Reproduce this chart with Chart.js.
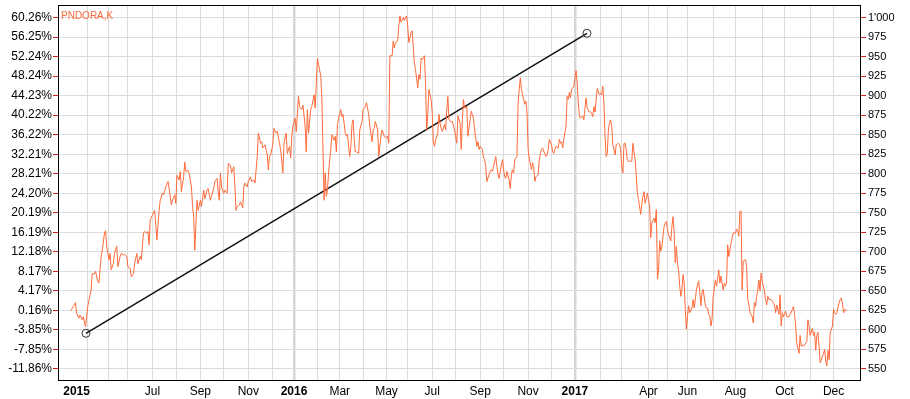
<!DOCTYPE html>
<html>
<head>
<meta charset="utf-8">
<script src="https://cdn.jsdelivr.net/npm/chart.js@4"></script>
<style>
  html, body { margin: 0; padding: 0; background: #fff; }
  #wrap { width: 910px; height: 399px; position: relative; }
</style>
</head>
<body>
<div id="wrap"><canvas id="priceChart"></canvas></div>
<script>
// trading-day index (0 = first session shown, mid March 2015) and closing price
const days = [0,2,4,5,7,8,10,11,13,15,16,18,19,21,22,24,25,26,27,28,30,31,32,34,35,36,38,39,41,42,44,45,47,48,50,51,53,54,56,57,59,60,62,63,65,66,68,69,70,71,73,75,76,77,79,80,82,83,85,87,88,90,91,93,94,95,97,98,99,101,102,103,105,106,108,109,110,111,
  113,114,116,117,119,120,122,123,125,126,128,129,131,132,133,134,135,137,138,140,141,143,144,146,147,148,149,151,152,154,155,156,158,159,161,162,164,165,167,168,170,171,172,174,176,177,178,179,181,182,184,185,187,188,190,191,193,194,196,197,198,199,201,202,204,205,207,208,210,211,212,213,215,216,218,219,221,222,224,225,226,227,228,229,
  230,231,232,233,234,236,237,238,239,240,242,243,244,246,247,248,250,251,252,253,254,255,256,258,259,261,262,264,265,267,268,270,271,272,273,275,276,278,279,281,282,284,285,286,288,289,290,291,293,294,295,296,298,299,300,301,302,303,305,306,307,308,309,311,312,313,314,315,317,318,319,320,321,323,324,325,326,327,329,330,331,332,333,335,336,337,338,339,341,342,
  344,346,347,349,350,351,352,353,355,356,358,359,361,362,364,365,366,367,369,370,371,372,373,375,376,377,378,379,381,382,383,384,385,387,388,389,390,391,393,394,395,396,397,398,400,401,402,403,404,405,407,408,409,410,411,413,414,415,416,417,419,420,421,422,423,424,426,427,428,429,431,432,433,434,435,437,438,439,440,441,442,444,445,446,447,448,449,451,452,453,454,455,456,457,459,460,461,462,463,
  465,466,467,468,469,470,471,472,474,475,476,477,478,479,480,481,482,483,484,485,486,487,488,489,491,492,493,494,495,496,497,498,499,500,502,503,504,505,506,507,508,509,511,512,513,514,515,517,518,519,520,521,523,524,525,526,527,528,529,530,532,533,534,535,536,538,539,540,541,542,543,544,545,546,547,548,549,550,551,552,553,554,555,557,558,559,560,561,563,564,565,566,567,569,570,571,572,573,574,575,576,
  578,579,580,581,582,583,585,586,587,588,589,590,592,593,594,596,597,598,599,600,601,602,603,605,606,607,608,609,611,612,613,614,615,616,617,618,619,620,622,623,624,625,626,628,629,630,631,632,633,635,636,637,638,639,641,642,643,644,645,647,648,649,650,651,653,654,655,656,657,659,660,661,662,663,665,666,667,668,669,670,671,672,674,675,676,677,678,679,680,681,683,684,685,686,687,689,690,691,692,693,694,696];

const closes = [625,630,635,621,615,619,613,617,604,630,638,651,672,672,675,662,660,677,694,702,724,727,707,690,698,677,685,698,707,681,694,698,696,697,694,681,679,668,672,685,698,685,694,690,724,726,724,726,709,741,747,753,734,715,753,766,775,773,783,790,781,760,766,773,762,798,792,803,777,796,815,803,804,800,783,758,745,702,
  766,753,766,758,779,768,779,781,766,771,781,790,794,777,766,801,783,775,779,775,813,811,801,809,783,753,758,760,764,756,783,788,783,790,796,790,792,788,822,852,839,841,833,837,824,805,822,824,837,858,852,854,839,831,801,839,852,826,835,820,848,861,871,854,899,886,882,888,861,828,882,852,882,886,901,884,948,940,925,895,830,766,801,771,
  779,801,818,831,850,843,848,828,863,871,882,873,876,852,848,850,822,835,863,869,843,828,828,826,856,867,882,886,891,876,861,841,856,858,867,856,822,848,856,848,846,848,839,951,951,970,961,968,970,989,1002,994,1000,996,1000,1002,989,968,981,983,963,942,933,910,927,921,948,946,951,916,856,876,908,895,878,841,835,843,852,876,865,858,854,863,856,882,899,869,866,867,
  856,839,874,865,831,869,895,884,886,848,869,880,871,856,835,841,831,835,831,820,818,809,790,799,803,805,803,809,822,809,799,794,803,818,805,796,794,803,792,781,799,805,801,818,822,891,908,923,908,901,889,893,880,831,820,805,814,809,790,796,799,818,826,831,833,829,822,824,831,844,837,829,826,831,835,833,844,839,841,833,844,861,899,895,904,897,908,912,923,932,917,891,874,871,874,869,884,897,884,
  879,879,877,873,886,879,894,909,901,903,901,912,890,848,822,826,856,865,869,860,837,831,824,837,839,837,831,809,801,839,839,831,818,816,816,816,839,828,818,799,775,767,748,762,771,777,762,775,767,758,718,737,743,737,754,665,677,714,701,707,733,737,739,728,722,714,733,745,724,686,707,684,677,656,643,652,671,660,626,601,618,631,622,628,639,628,639,652,663,648,631,648,652,631,628,628,620,618,605,613,643,
  664,656,666,677,660,669,651,660,656,660,709,694,711,718,724,724,729,728,720,752,752,651,688,690,681,639,632,622,617,609,635,630,643,651,664,650,673,662,650,639,632,643,639,639,637,635,632,622,632,620,645,605,622,617,624,617,617,617,620,626,630,620,605,583,570,593,579,581,579,583,585,613,605,593,602,593,597,574,593,597,579,558,566,570,575,560,554,574,562,597,605,626,622,620,622,635,639,641,633,622,626,625];

// month starts on the same trading-day scale
const monthDays = [5,15,34,51,73,95,116,137,159,181,200,221,241,262,283,302,324,345,367,388,410,431,452,475,494,518,535,553,576,596,620,640,663,684];
const monthLabels = ['2015','','','','Jul','','Sep','','Nov','','2016','','Mar','','May','','Jul','','Sep','','Nov','','2017','','','Apr','','Jun','','Aug','','Oct','','Dec'];
const yearDays = [200,452];

const priceTicks = [550,575,600,625,650,675,700,725,750,775,800,825,850,875,900,925,950,975,1000];
const basePrice = 624;

// hand-drawn trend line
const trendDays = [13.4, 462.8];
const trendPrices = [595.7, 979.8];

const seriesName = 'PNDORA,K';
const lineColor = '#ff6a3a';
const fontFamily = '"Liberation Sans", Arial, sans-serif';

const frame = {
  id: 'frame',
  afterDraw(chart) {
    const a = chart.chartArea;
    const ctx = chart.ctx;
    ctx.save();
    ctx.strokeStyle = '#000';
    ctx.lineWidth = 1;
    ctx.strokeRect(Math.round(a.left) + 0.5, Math.round(a.top) + 0.5,
      Math.round(a.right - a.left) - 1, Math.round(a.bottom - a.top));
    ctx.fillStyle = lineColor;
    ctx.font = '10px ' + fontFamily;
    ctx.textBaseline = 'top';
    ctx.fillText(seriesName, a.left + 3, a.top + 6);
    ctx.restore();
  }
};

// no extra room for half labels: the plot box is fixed
function fixPad(scale) {
  scale.paddingTop = 0;
  scale.paddingBottom = 0;
  scale.paddingLeft = 0;
  scale.paddingRight = 0;
}

const ctx = document.getElementById('priceChart').getContext('2d');
new Chart(ctx, {
  type: 'line',
  data: {
    datasets: [
      {
        label: seriesName,
        data: days.map((d, i) => ({ x: d, y: closes[i] })),
        borderColor: lineColor,
        borderWidth: 1,
        pointRadius: 0,
        tension: 0,
        yAxisID: 'y'
      },
      {
        label: 'trend',
        data: trendDays.map((d, i) => ({ x: d, y: trendPrices[i] })),
        borderColor: '#111',
        borderWidth: 1.5,
        pointRadius: 4,
        pointBorderColor: '#333',
        pointBorderWidth: 1,
        pointBackgroundColor: 'rgba(0,0,0,0)',
        tension: 0,
        yAxisID: 'y'
      }
    ]
  },
  options: {
    responsive: true,
    maintainAspectRatio: false,
    animation: false,
    layout: { padding: { top: 5, left: 0, right: 0, bottom: 0 } },
    plugins: {
      legend: { display: false },
      tooltip: { enabled: false }
    },
    scales: {
      x: {
        type: 'linear',
        min: -11.7,
        max: 708.6,
        afterBuildTicks: (scale) => { scale.ticks = monthDays.map(v => ({ value: v })); },
        afterFit: (scale) => { scale.height = 19; fixPad(scale); },
        border: { display: false },
        grid: {
          drawTicks: false,
          color: (c) => c.tick && c.tick.value === monthDays[0] ? 'rgba(0,0,0,0)'
            : (c.tick && yearDays.includes(c.tick.value) ? '#d6d6d6' : '#dcdcdc'),
          lineWidth: (c) => c.tick && yearDays.includes(c.tick.value) ? 2.5 : 1
        },
        ticks: {
          autoSkip: false,
          maxRotation: 0,
          padding: 4,
          color: '#000',
          font: (c) => ({
            family: fontFamily,
            size: 12,
            weight: c.tick && (yearDays.includes(c.tick.value) || c.tick.value === monthDays[0]) ? 'bold' : 'normal'
          }),
          callback: (v, i) => monthLabels[i]
        }
      },
      y: {
        position: 'right',
        min: 535.9,
        max: 1016,
        afterBuildTicks: (scale) => { scale.ticks = priceTicks.map(v => ({ value: v })); },
        afterFit: (scale) => { scale.width = 49; fixPad(scale); },
        border: { display: false },
        grid: { color: '#dcdcdc', tickColor: '#d42020', tickLength: 5 },
        ticks: {
          padding: 2,
          color: '#000',
          font: { family: fontFamily, size: 11 },
          callback: (v) => v === 1000 ? "1'000" : String(v)
        }
      },
      yPct: {
        position: 'left',
        min: 535.9,
        max: 1016,
        afterBuildTicks: (scale) => { scale.ticks = priceTicks.map(v => ({ value: v })); },
        afterFit: (scale) => { scale.width = 58; fixPad(scale); },
        border: { display: false },
        grid: { drawOnChartArea: false, tickColor: '#d42020', tickLength: 5 },
        ticks: {
          padding: 1,
          color: '#000',
          font: { family: fontFamily, size: 12 },
          callback: (v) => ((v / basePrice - 1) * 100).toFixed(2) + '%'
        }
      }
    }
  },
  plugins: [frame]
});
</script>
</body>
</html>
